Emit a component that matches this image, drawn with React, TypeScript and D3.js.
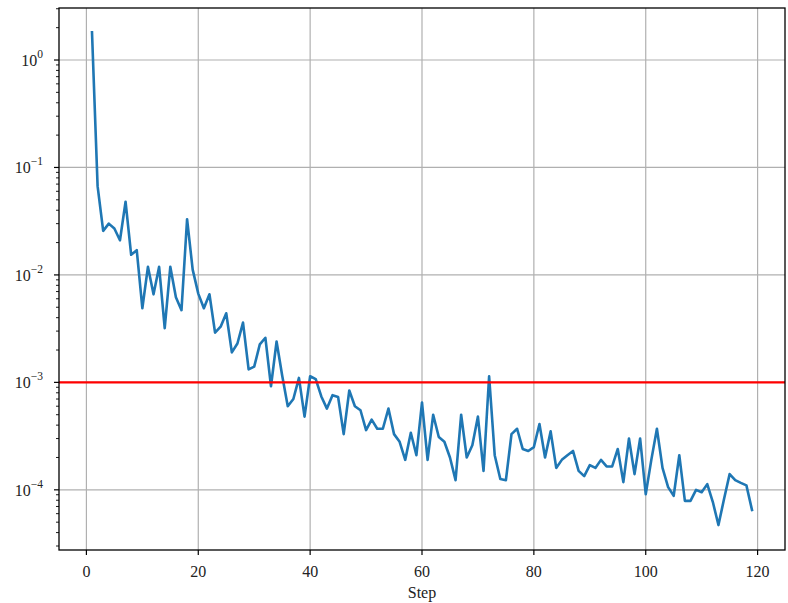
import React from "react";
import * as d3 from "d3";

// Training loss per step
const steps: number[] = d3.range(1, 120);
const loss: number[] = [
  1.81, 0.067, 0.0257, 0.030, 0.027, 0.021, 0.048, 0.0154, 0.017, 0.0049,
  0.0119, 0.0066, 0.0119, 0.0032, 0.0119, 0.0062, 0.0047, 0.033, 0.0112, 0.0067,
  0.0049, 0.0066, 0.0029, 0.0033, 0.0044, 0.0019, 0.0023, 0.0036, 0.00132, 0.0014,
  0.00226, 0.0026, 0.00092, 0.0024, 0.00116, 0.0006, 0.0007, 0.0011, 0.00048, 0.00114,
  0.00107, 0.00074, 0.00057, 0.00076, 0.00073, 0.00033, 0.00084, 0.0006, 0.00055, 0.00036,
  0.00045, 0.00037, 0.00037, 0.00057, 0.00033, 0.00028, 0.00019, 0.00034, 0.00021, 0.00065,
  0.00019, 0.0005, 0.00031, 0.00028, 0.0002, 0.000123, 0.0005, 0.0002, 0.00026, 0.00048,
  0.00015, 0.00114, 0.00021, 0.000126, 0.000123, 0.00033, 0.00037, 0.00024, 0.00023, 0.00025,
  0.00041, 0.0002, 0.00035, 0.00016, 0.00019, 0.00021, 0.00023, 0.00015, 0.000134, 0.00017,
  0.00016, 0.00019, 0.000165, 0.000165, 0.00024, 0.000118, 0.0003, 0.00014, 0.0003, 0.000091,
  0.00019, 0.00037, 0.00016, 0.000106, 0.000088, 0.00021, 0.000079, 0.000079, 0.0001, 0.000095,
  0.000113, 0.000077, 0.000047, 0.000082, 0.00014, 0.000123, 0.000116, 0.00011, 0.000065,
];
const threshold = 1e-3;
const xTicks: number[] = [0, 20, 40, 60, 80, 100, 120];
const yExponents: number[] = [0, -1, -2, -3, -4];
const xLabel = "Step";

const W = 788;
const H = 603;
const left = 59;
const right = 785;
const top = 8;
const bottom = 550;
const FONT = "'Liberation Serif', 'DejaVu Serif', serif";

export default function App() {
  const x = d3.scaleLinear().domain([-4.9, 124.9]).range([left, right]);
  const y = d3
    .scaleLog()
    .domain([Math.pow(10, -4.56), Math.pow(10, 0.484)])
    .range([bottom, top]);

  const line = d3
    .line<number>()
    .x((_, i) => x(steps[i]))
    .y((d) => y(d));

  const [yMin, yMax] = y.domain();
  const minor: number[] = [];
  for (let e = -5; e <= 0; e++) {
    for (let m = 2; m <= 9; m++) {
      const v = m * Math.pow(10, e);
      if (v >= yMin && v <= yMax) minor.push(v);
    }
  }

  return (
    <svg
      width={W}
      height={H}
      style={{ position: "absolute", left: 0, top: 0, background: "#fff" }}
    >
      {/* grid */}
      <g stroke="#b0b0b0" strokeWidth={1.2}>
        {xTicks.map((t) => (
          <line key={"gx" + t} x1={x(t)} x2={x(t)} y1={top} y2={bottom} />
        ))}
        {yExponents.map((e) => (
          <line
            key={"gy" + e}
            x1={left}
            x2={right}
            y1={y(Math.pow(10, e))}
            y2={y(Math.pow(10, e))}
          />
        ))}
      </g>

      {/* loss curve */}
      <path
        d={line(loss) || ""}
        fill="none"
        stroke="#1f77b4"
        strokeWidth={2.6}
        strokeLinejoin="round"
        strokeLinecap="square"
      />

      {/* threshold */}
      <line
        x1={left}
        x2={right}
        y1={y(threshold)}
        y2={y(threshold)}
        stroke="#ff0000"
        strokeWidth={2.2}
      />

      {/* frame */}
      <rect
        x={left}
        y={top}
        width={right - left}
        height={bottom - top}
        fill="none"
        stroke="#000"
        strokeWidth={1.3}
      />

      {/* x axis */}
      <g fontFamily={FONT} fontSize={16} fill="#222">
        {xTicks.map((t) => (
          <g key={"xt" + t}>
            <line x1={x(t)} x2={x(t)} y1={bottom} y2={bottom + 5} stroke="#000" strokeWidth={1.2} />
            <text x={x(t)} y={bottom + 27} textAnchor="middle">
              {t}
            </text>
          </g>
        ))}
        <text x={(left + right) / 2} y={598} textAnchor="middle">
          {xLabel}
        </text>
      </g>

      {/* y axis */}
      <g fontFamily={FONT} fill="#222">
        {minor.map((v, i) => (
          <line key={"m" + i} x1={left - 3} x2={left} y1={y(v)} y2={y(v)} stroke="#000" strokeWidth={0.9} />
        ))}
        {yExponents.map((e) => {
          const py = y(Math.pow(10, e));
          return (
            <g key={"yt" + e}>
              <line x1={left - 5} x2={left} y1={py} y2={py} stroke="#000" strokeWidth={1.2} />
              <text x={left - 16} y={py + 6} textAnchor="end" fontSize={16}>
                10
                <tspan dy={-8} fontSize={11.5}>
                  {e === 0 ? "0" : "\u2212" + Math.abs(e)}
                </tspan>
              </text>
            </g>
          );
        })}
      </g>
    </svg>
  );
}
